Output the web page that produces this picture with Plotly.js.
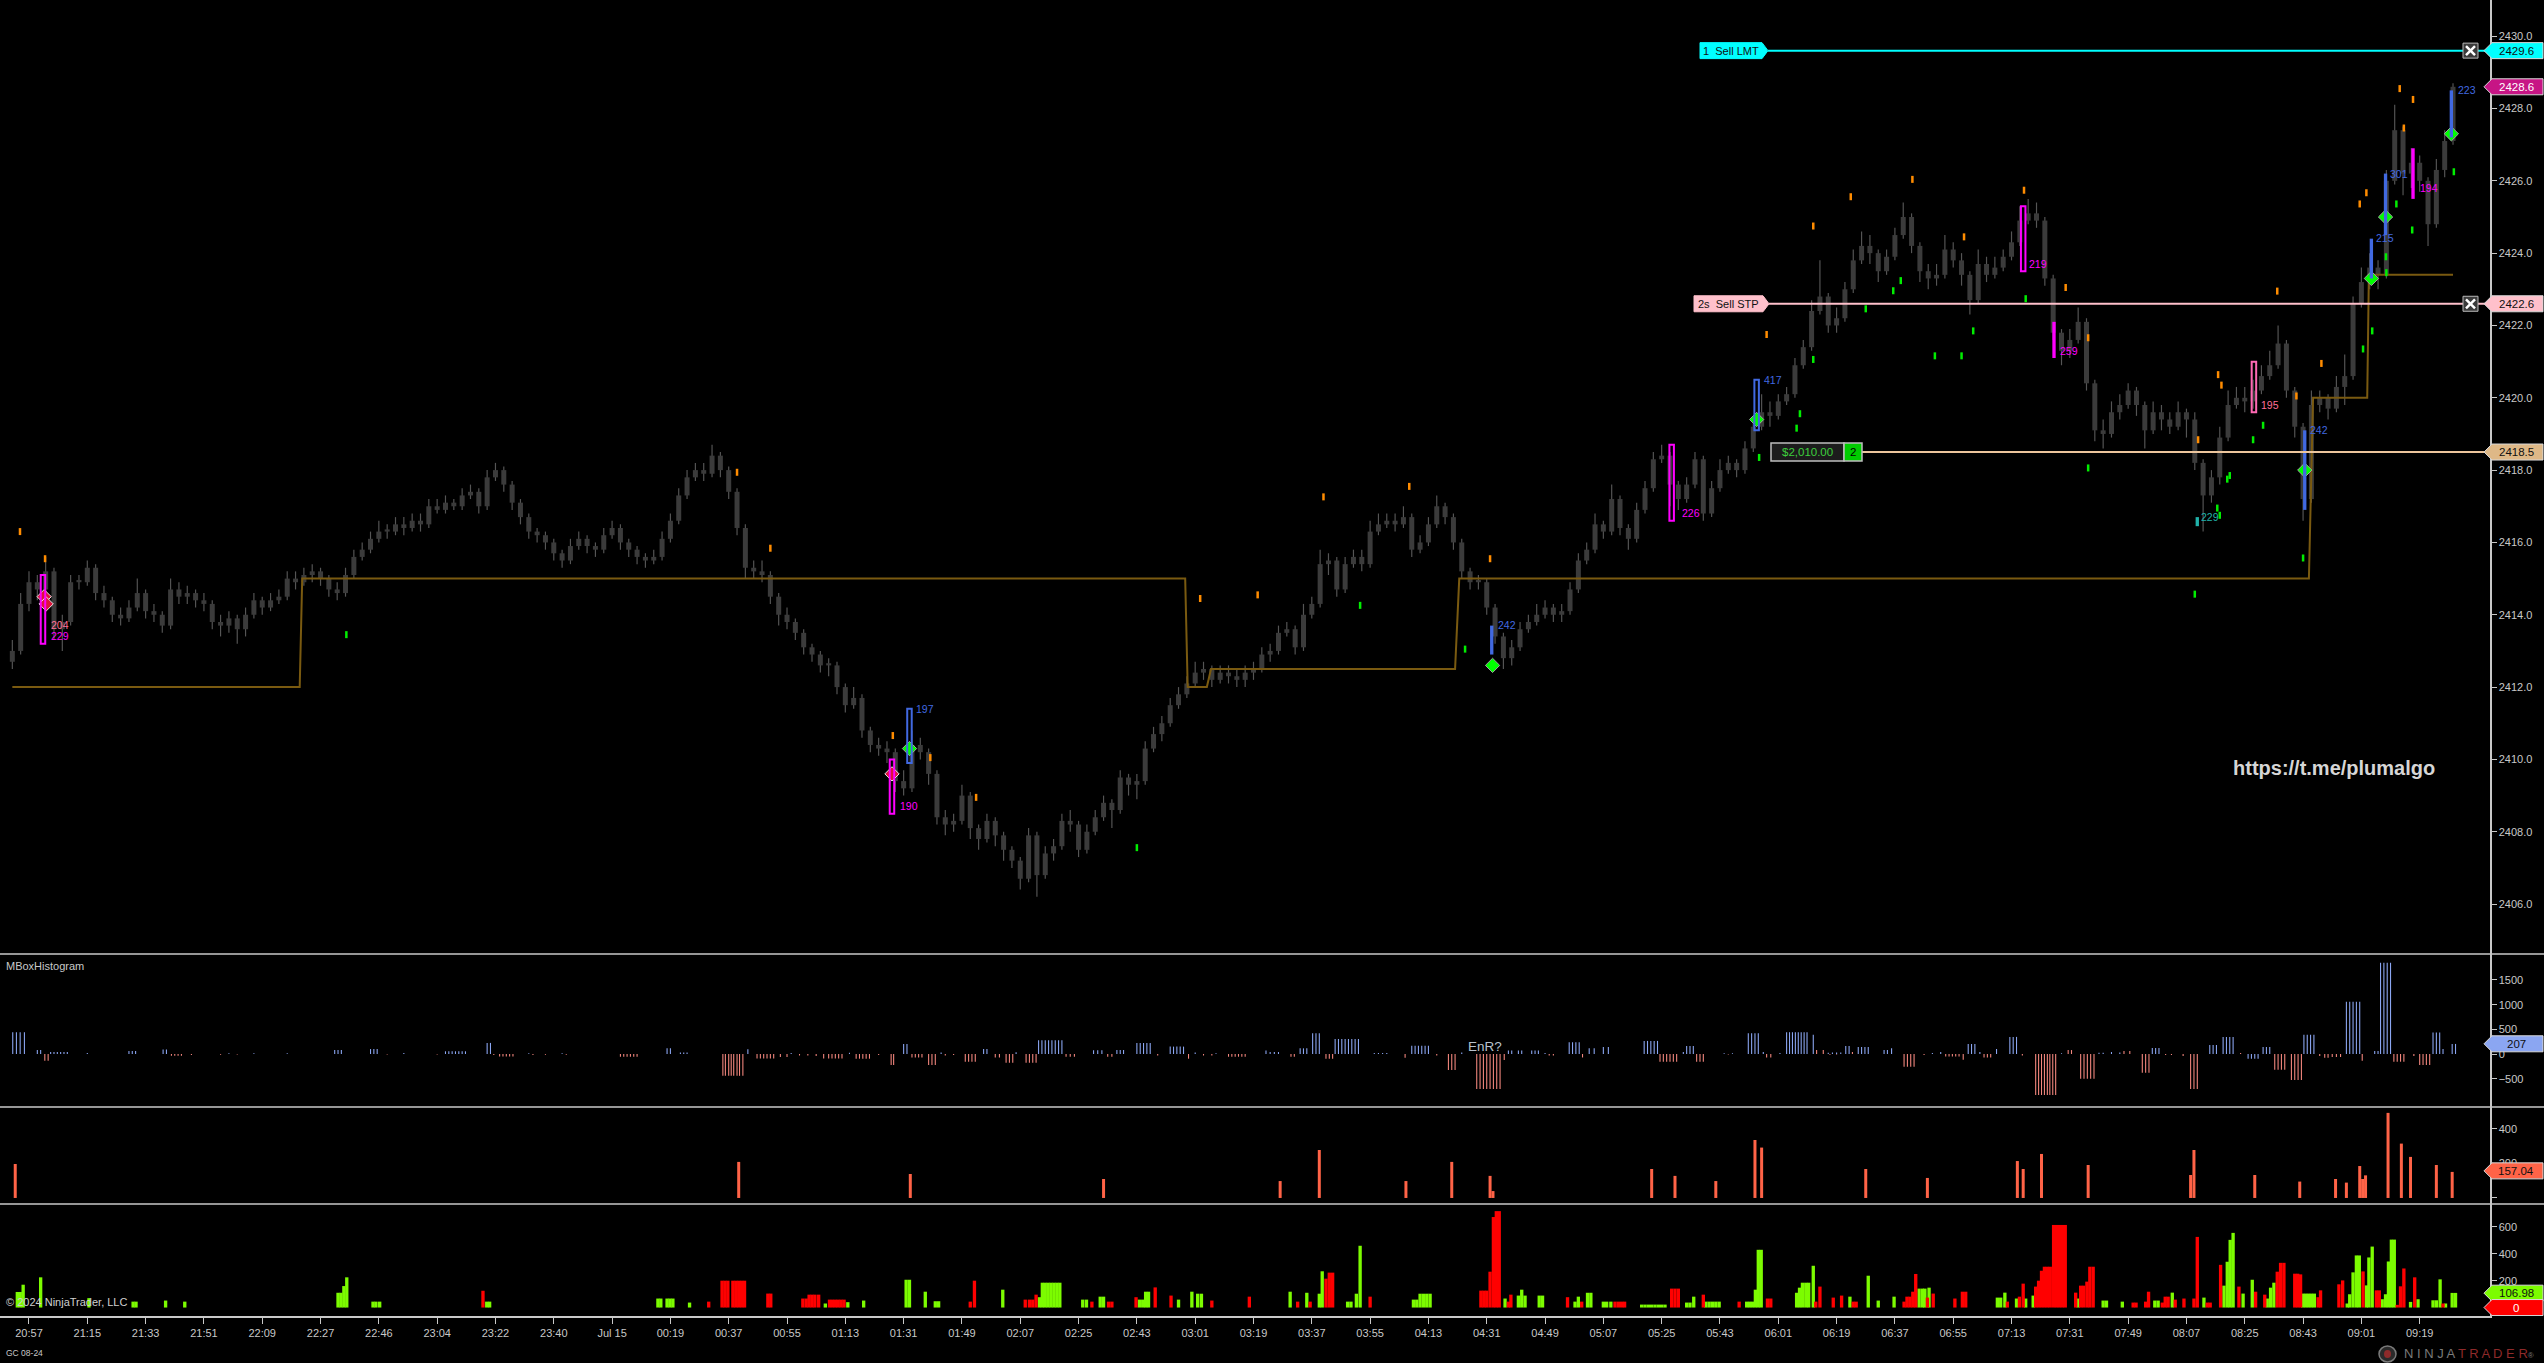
<!DOCTYPE html>
<html><head><meta charset="utf-8">
<script src="https://cdn.plot.ly/plotly-3.0.1.min.js"></script>
<style>html,body{margin:0;padding:0;background:#000;overflow:hidden}#chart{width:2544px;height:1363px}</style>
</head><body><div id="chart"></div>
<script>
// ---------- DATA ----------
const timeLabels = ['20:57','21:15','21:33','21:51','22:09','22:27','22:46','23:04','23:22','23:40','Jul 15','00:19','00:37','00:55','01:13','01:31','01:49','02:07','02:25','02:43','03:01','03:19','03:37','03:55','04:13','04:31','04:49','05:07','05:25','05:43','06:01','06:19','06:37','06:55','07:13','07:31','07:49','08:07','08:25','08:43','09:01','09:19'];

const closeP = [2413.0,2414.3,2414.9,2414.7,2415.2,2413.6,2413.8,2414.9,2414.9,2415.3,
2414.6,2414.4,2414.0,2413.9,2414.2,2414.6,2414.1,2414.0,2413.7,2414.7,
2414.5,2414.6,2414.4,2414.3,2413.8,2413.7,2413.9,2413.6,2414.0,2414.4,
2414.2,2414.4,2414.5,2415.0,2414.9,2415.1,2415.2,2415.0,2414.7,2414.6,
2415.1,2415.6,2415.8,2416.1,2416.3,2416.3,2416.5,2416.4,2416.6,2416.5,
2417.0,2416.9,2417.1,2417.0,2417.3,2417.4,2417.0,2417.8,2418.0,2417.6,
2417.1,2416.7,2416.3,2416.2,2416.0,2415.7,2415.5,2415.9,2416.1,2415.9,
2415.8,2416.2,2416.4,2416.0,2415.8,2415.6,2415.5,2415.6,2416.1,2416.6,
2417.3,2417.8,2418.0,2417.9,2418.4,2418.0,2417.4,2416.4,2415.3,2415.2,
2415.1,2414.5,2414.0,2413.8,2413.5,2413.1,2412.9,2412.6,2412.6,2412.0,
2411.5,2411.7,2410.8,2410.4,2410.3,2410.2,2409.4,2409.2,2410.4,2410.2,
2409.6,2408.4,2408.2,2408.3,2409.0,2408.1,2407.8,2408.3,2407.9,2407.5,
2407.2,2406.7,2407.9,2406.8,2407.4,2407.6,2408.3,2408.2,2407.5,2408.0,
2408.4,2408.8,2408.6,2409.5,2409.3,2409.4,2410.3,2410.7,2411.0,2411.5,
2411.8,2412.1,2412.4,2412.5,2412.2,2412.4,2412.3,2412.2,2412.4,2412.5,
2412.9,2413.0,2413.5,2413.6,2413.1,2414.0,2414.3,2415.4,2415.5,2414.7,
2415.4,2415.6,2415.4,2416.3,2416.5,2416.6,2416.5,2416.7,2415.8,2416.0,
2416.5,2417.0,2416.7,2416.0,2415.2,2414.9,2414.9,2414.2,2413.4,2412.8,
2413.1,2413.6,2413.8,2414.0,2414.2,2414.0,2414.1,2414.7,2415.5,2415.8,
2416.5,2416.3,2417.2,2416.4,2416.1,2416.9,2417.5,2418.3,2418.4,2417.6,
2417.2,2417.6,2418.3,2416.8,2417.5,2418.0,2418.2,2418.0,2418.6,2419.2,
2419.6,2419.5,2419.9,2420.1,2420.9,2421.4,2422.4,2422.8,2422.0,2422.2,
2423.0,2423.8,2424.2,2424.0,2423.5,2423.9,2424.5,2425.0,2424.2,2423.5,
2423.3,2423.4,2424.1,2423.8,2423.4,2422.7,2423.7,2423.4,2423.6,2423.9,
2424.3,2424.9,2425.1,2424.9,2423.3,2421.8,2421.3,2421.6,2422.1,2420.4,
2419.1,2419.0,2419.6,2419.8,2420.2,2419.8,2419.1,2419.6,2419.4,2419.2,
2419.6,2419.4,2418.2,2417.3,2417.8,2418.9,2419.8,2420.0,2419.9,2420.2,
2420.6,2420.9,2421.5,2420.2,2419.2,2417.2,2419.8,2420.0,2419.7,2420.3,
2420.6,2422.6,2423.2,2423.6,2423.4,2426.0,2427.4,2426.2,2426.5,2426.0,
2424.8,2426.3,2427.1,2428.6];

const openP = [2412.7,2413.0,2414.3,2414.9,2414.7,2415.2,2413.6,2413.8,2414.9,2414.9,
2415.3,2414.6,2414.4,2414.0,2413.9,2414.2,2414.6,2414.1,2414.0,2413.7,
2414.7,2414.5,2414.6,2414.4,2414.3,2413.8,2413.7,2413.9,2413.6,2414.0,
2414.4,2414.2,2414.4,2414.5,2415.0,2414.9,2415.1,2415.2,2415.0,2414.7,
2414.6,2415.1,2415.6,2415.8,2416.1,2416.3,2416.3,2416.5,2416.4,2416.6,
2416.5,2417.0,2416.9,2417.1,2417.0,2417.3,2417.4,2417.0,2417.8,2418.0,
2417.6,2417.1,2416.7,2416.3,2416.2,2416.0,2415.7,2415.5,2415.9,2416.1,
2415.9,2415.8,2416.2,2416.4,2416.0,2415.8,2415.6,2415.5,2415.6,2416.1,
2416.6,2417.3,2417.8,2418.0,2417.9,2418.4,2418.0,2417.4,2416.4,2415.3,
2415.2,2415.1,2414.5,2414.0,2413.8,2413.5,2413.1,2412.9,2412.6,2412.6,
2412.0,2411.5,2411.7,2410.8,2410.4,2410.3,2410.2,2409.4,2409.2,2410.4,
2410.2,2409.6,2408.4,2408.2,2408.3,2409.0,2408.1,2407.8,2408.3,2407.9,
2407.5,2407.2,2406.7,2407.9,2406.8,2407.4,2407.6,2408.3,2408.2,2407.5,
2408.0,2408.4,2408.8,2408.6,2409.5,2409.3,2409.4,2410.3,2410.7,2411.0,
2411.5,2411.8,2412.1,2412.4,2412.5,2412.2,2412.4,2412.3,2412.2,2412.4,
2412.5,2412.9,2413.0,2413.5,2413.6,2413.1,2414.0,2414.3,2415.4,2415.5,
2414.7,2415.4,2415.6,2415.4,2416.3,2416.5,2416.6,2416.5,2416.7,2415.8,
2416.0,2416.5,2417.0,2416.7,2416.0,2415.2,2414.9,2414.9,2414.2,2413.4,
2412.8,2413.1,2413.6,2413.8,2414.0,2414.2,2414.0,2414.1,2414.7,2415.5,
2415.8,2416.5,2416.3,2417.2,2416.4,2416.1,2416.9,2417.5,2418.3,2418.4,
2417.6,2417.2,2417.6,2418.3,2416.8,2417.5,2418.0,2418.2,2418.0,2418.6,
2419.2,2419.6,2419.5,2419.9,2420.1,2420.9,2421.4,2422.4,2422.8,2422.0,
2422.2,2423.0,2423.8,2424.2,2424.0,2423.5,2423.9,2424.5,2425.0,2424.2,
2423.5,2423.3,2423.4,2424.1,2423.8,2423.4,2422.7,2423.7,2423.4,2423.6,
2423.9,2424.3,2424.9,2425.1,2424.9,2423.3,2421.8,2421.3,2421.6,2422.1,
2420.4,2419.1,2419.0,2419.6,2419.8,2420.2,2419.8,2419.1,2419.6,2419.4,
2419.2,2419.6,2419.4,2418.2,2417.3,2417.8,2418.9,2419.8,2420.0,2419.9,
2420.2,2420.6,2420.9,2421.5,2420.2,2419.2,2417.2,2419.8,2420.0,2419.7,
2420.3,2420.6,2422.6,2423.2,2423.6,2423.4,2426.0,2427.4,2426.2,2426.5,
2426.0,2424.8,2426.3,2427.1];

const highP = [2413.3,2414.6,2415.2,2415.1,2415.6,2415.3,2414.0,2415.1,2415.1,2415.5,
2415.4,2414.8,2414.5,2414.2,2414.4,2415.0,2414.7,2414.3,2414.1,2415.0,
2414.9,2414.8,2414.7,2414.6,2414.4,2414.0,2414.1,2414.0,2414.2,2414.6,
2414.5,2414.6,2414.7,2415.2,2415.2,2415.3,2415.4,2415.3,2415.1,2414.9,
2415.3,2415.8,2416.0,2416.3,2416.6,2416.5,2416.7,2416.7,2416.8,2416.8,
2417.2,2417.2,2417.3,2417.2,2417.5,2417.6,2417.5,2418.0,2418.2,2418.1,
2417.7,2417.2,2416.8,2416.4,2416.3,2416.1,2415.8,2416.1,2416.3,2416.2,
2416.0,2416.4,2416.6,2416.5,2416.1,2415.9,2415.7,2415.8,2416.3,2416.8,
2417.5,2418.0,2418.2,2418.2,2418.7,2418.5,2418.1,2417.5,2416.5,2415.5,
2415.5,2415.2,2414.6,2414.2,2413.9,2413.6,2413.2,2413.0,2412.8,2412.7,
2412.1,2412.0,2411.8,2410.9,2410.6,2410.5,2410.3,2409.7,2410.8,2410.6,
2410.3,2409.7,2408.6,2408.5,2409.3,2409.1,2408.2,2408.5,2408.4,2408.0,
2407.6,2407.3,2408.1,2408.0,2407.6,2407.8,2408.5,2408.6,2408.3,2408.2,
2408.6,2409.0,2408.9,2409.7,2409.6,2409.6,2410.5,2410.9,2411.2,2411.7,
2412.0,2412.3,2412.7,2412.7,2412.6,2412.6,2412.6,2412.5,2412.6,2412.7,
2413.1,2413.2,2413.7,2413.8,2413.7,2414.3,2414.5,2415.8,2415.7,2415.6,
2415.6,2415.8,2415.8,2416.6,2416.8,2416.8,2416.8,2417.0,2416.8,2416.2,
2416.7,2417.3,2417.1,2416.8,2416.1,2415.3,2415.1,2415.0,2414.3,2413.5,
2413.3,2413.8,2414.0,2414.3,2414.4,2414.3,2414.3,2414.9,2415.7,2416.0,
2416.8,2416.6,2417.6,2417.3,2416.5,2417.1,2417.7,2418.5,2418.7,2418.5,
2417.7,2417.8,2418.5,2418.4,2417.7,2418.3,2418.4,2418.3,2418.8,2419.4,
2420.1,2419.9,2420.1,2420.3,2421.1,2421.6,2422.7,2423.8,2422.9,2422.5,
2423.2,2424.1,2424.6,2424.5,2424.1,2424.1,2424.7,2425.4,2425.1,2424.3,
2423.7,2423.7,2424.5,2424.3,2424.0,2423.5,2424.1,2423.9,2423.9,2424.1,
2424.6,2425.3,2425.5,2425.4,2425.0,2423.4,2421.9,2421.9,2422.5,2422.2,
2420.5,2419.4,2419.9,2420.1,2420.4,2420.3,2419.9,2419.9,2419.8,2419.6,
2419.9,2419.7,2419.6,2418.3,2418.0,2419.2,2420.2,2420.3,2420.3,2420.5,
2420.9,2421.3,2422.0,2421.6,2420.3,2419.3,2420.2,2420.2,2420.1,2420.6,
2421.2,2422.8,2423.6,2424.0,2423.8,2426.3,2428.1,2427.5,2426.9,2426.7,
2426.1,2426.6,2427.4,2428.7];

const lowP = [2412.5,2412.9,2414.1,2414.4,2414.6,2413.3,2413.0,2413.7,2414.7,2414.8,
2414.4,2414.2,2413.8,2413.7,2413.8,2414.1,2413.9,2413.8,2413.5,2413.6,
2414.3,2414.3,2414.2,2414.1,2413.6,2413.4,2413.5,2413.2,2413.4,2413.9,
2414.0,2414.1,2414.3,2414.4,2414.7,2414.8,2414.9,2414.8,2414.5,2414.4,
2414.5,2415.0,2415.5,2415.7,2416.0,2416.1,2416.2,2416.2,2416.3,2416.3,
2416.4,2416.8,2416.8,2416.9,2416.9,2417.2,2416.8,2416.9,2417.7,2417.4,
2416.9,2416.5,2416.1,2416.0,2415.8,2415.5,2415.3,2415.4,2415.8,2415.7,
2415.6,2415.7,2416.1,2415.8,2415.6,2415.4,2415.3,2415.4,2415.5,2416.0,
2416.5,2417.2,2417.7,2417.7,2417.8,2417.8,2417.2,2416.2,2415.0,2415.0,
2414.9,2414.3,2413.7,2413.6,2413.3,2412.9,2412.7,2412.4,2412.3,2411.8,
2411.3,2411.4,2410.6,2410.2,2410.1,2409.9,2409.1,2409.0,2409.1,2410.0,
2409.3,2408.2,2407.9,2408.0,2408.2,2407.8,2407.5,2407.7,2407.6,2407.2,
2407.0,2406.4,2406.6,2406.2,2406.7,2407.2,2407.5,2408.0,2407.3,2407.4,
2407.9,2408.3,2408.1,2408.5,2409.0,2408.9,2409.3,2410.2,2410.5,2410.9,
2411.4,2411.7,2412.0,2412.2,2412.0,2412.1,2412.1,2412.0,2412.0,2412.2,
2412.4,2412.7,2412.9,2413.4,2412.9,2413.0,2413.9,2414.2,2415.1,2414.5,
2414.6,2415.3,2415.2,2415.3,2416.2,2416.4,2416.3,2416.4,2415.6,2415.7,
2415.9,2416.4,2416.5,2415.8,2415.0,2414.7,2414.7,2414.0,2413.2,2412.5,
2412.6,2413.0,2413.5,2413.7,2413.9,2413.8,2413.8,2414.0,2414.6,2415.4,
2415.7,2416.1,2416.2,2416.2,2415.8,2416.0,2416.8,2417.4,2418.2,2417.0,
2416.9,2417.1,2417.5,2416.6,2416.7,2417.4,2417.9,2417.8,2417.9,2418.5,
2419.1,2419.2,2419.4,2419.8,2420.0,2420.8,2421.3,2422.3,2421.8,2421.8,
2422.1,2422.9,2423.7,2423.7,2423.2,2423.4,2423.8,2424.4,2424.0,2423.2,
2423.0,2423.1,2423.3,2423.6,2423.1,2422.3,2422.6,2423.2,2423.3,2423.5,
2423.8,2424.2,2424.8,2424.7,2423.1,2421.6,2420.9,2421.1,2421.5,2420.2,
2418.8,2418.6,2418.9,2419.4,2419.7,2419.5,2418.6,2419.0,2419.1,2419.0,
2419.1,2418.9,2418.0,2416.3,2417.1,2417.6,2418.8,2419.7,2419.6,2419.7,
2420.1,2420.5,2420.8,2420.0,2418.9,2416.6,2417.1,2419.6,2419.4,2419.6,
2419.8,2420.5,2422.5,2423.0,2423.0,2423.3,2425.9,2425.6,2425.8,2425.7,
2424.2,2424.7,2426.1,2427.0];

// step level line (bar index, price)
const levelBar = [0,34.5,34.8,140.8,141.1,143.4,143.9,173.2,173.7,275.7,276.2,282.7,282.9,293.0];
const levelVal = [2412.0,2412.0,2415.0,2415.0,2412.0,2412.0,2412.5,2412.5,2415.0,2415.0,2420.0,2420.0,2423.4,2423.4];

// small dots (bar index, price)
const orangeDots = [[0.92,2416.3],[3.93,2415.55],[87.0,2417.94],[91.0,2415.84],[105.7,2410.66],[110.2,2410.05],[115.7,2408.95],[142.6,2414.45],[149.5,2414.55],[157.4,2417.26],[167.7,2417.55],[177.4,2415.55],[210.6,2421.75],[216.2,2424.75],[220.7,2425.56],[228.1,2426.04],[234.3,2424.45],[241.5,2425.74],[246.5,2423.05],[249.2,2421.66],[262.4,2418.84],[264.8,2420.64],[265.2,2420.35],[271.9,2422.95],[274.2,2420.05],[277.2,2420.95],[281.8,2425.36],[282.6,2425.67],[286.6,2428.55],[287.1,2427.46],[288.2,2428.25]];
const greenDots = [[40.1,2413.45],[135.0,2407.56],[161.8,2414.26],[174.4,2413.05],[209.7,2418.35],[214.2,2419.16],[214.6,2419.56],[216.2,2421.06],[222.5,2422.46],[225.8,2422.96],[226.7,2423.24],[230.8,2421.16],[234.0,2421.16],[235.4,2421.85],[241.7,2422.74],[249.2,2418.06],[262.0,2414.57],[264.7,2416.95],[265.0,2416.75],[265.9,2417.75],[266.2,2417.85],[269.0,2418.84],[270.2,2419.24],[275.0,2415.57],[282.2,2421.35],[283.3,2421.85],[285.0,2423.46],[284.95,2423.9],[286.2,2425.36],[288.1,2424.64],[293.1,2426.25]];

// entry diamonds
const buyDiamonds = [[107.7,2410.3],[177.7,2412.6],[209.4,2419.4],[275.2,2418.0],[283.2,2423.3],[284.9,2425.0],[292.8,2427.3]];
const sellDiamonds = [[3.82,2414.5],[4.06,2414.3],[105.6,2409.6]];

// signal boxes: bar, top, bottom, kind
const boxBar = [3.68,105.6,107.7,177.6,199.2,209.4,241.4,245.1,262.3,269.1,275.2,283.2,284.9,288.2,292.8];
const boxTop = [2415.1,2410.0,2411.4,2413.7,2418.7,2420.5,2425.3,2422.1,2416.7,2421.0,2419.1,2424.4,2426.2,2426.9,2428.5];
const boxBot = [2413.2,2408.5,2409.9,2412.9,2416.6,2419.1,2423.5,2421.1,2416.45,2419.6,2416.9,2423.3,2424.5,2425.5,2427.2];
const boxKind = ['sellO','sellO','buyO','buyF','sellO','buyO','sellO','sellF','tealF','pinkO','buyF','buyF','buyF','sellF','buyF'];

// signal numbers
const labBar = [4.4,4.4,106.3,108.3,178.1,200.2,210.0,241.9,245.6,262.5,269.7,275.6,283.5,285.2,288.8,293.3];
const labPrice = [2413.72,2413.42,2408.71,2411.39,2413.72,2416.82,2420.5,2423.71,2421.3,2416.7,2419.81,2419.1,2424.41,2426.2,2425.8,2428.5];
const labText = ['204','229','190','197','242','226','417','219','259','229','195','242','215','301','194','223'];
const labKind = ['pink','sell','sell','buy','buy','sell','buy','sell','sell','teal','pink','buy','buy','buy','sell','buy'];

// MBoxHistogram (bar index, value)
const mboxBlue = [[0.05,442],[0.49,442],[0.94,442],[1.45,442],[3.0,80],[3.4,80],[4.6,40],[5.0,40],[5.4,40],[5.8,40],[6.2,40],[6.6,40],[9.0,20],[14.0,60],[14.4,60],[14.8,60],[18.1,90],[18.5,90],[26.0,15],[29.0,15],[33.0,15],[38.7,80],[39.1,80],[39.5,80],[43.0,100],[43.4,100],[43.8,100],[47.0,20],[52.0,55],[52.4,55],[52.8,55],[53.2,55],[53.6,55],[54.0,55],[54.4,55],[57.0,225],[57.4,225],[62.0,15],[66.0,15],[78.6,115],[79.0,115],[80.2,30],[80.6,30],[81.0,30],[88.3,95],[93.5,20],[100.5,25],[107.0,204],[107.4,204],[111.5,30],[116.6,100],[117.0,100],[120.5,35],[123.2,280],[123.6,280],[124.0,280],[124.4,280],[124.8,280],[125.2,280],[125.6,280],[126.0,280],[129.8,75],[130.3,75],[130.8,75],[132.6,80],[133.0,80],[133.4,80],[135.0,225],[135.4,225],[135.8,225],[136.2,225],[136.6,225],[139.0,150],[139.4,150],[139.8,150],[140.2,150],[140.6,150],[142.0,30],[144.5,15],[150.5,70],[151.0,40],[151.5,40],[152.0,40],[154.6,115],[155.0,115],[155.4,115],[156.1,420],[156.5,420],[156.9,420],[158.8,305],[159.2,305],[159.6,305],[160.0,305],[160.4,305],[160.8,305],[161.2,305],[161.6,305],[163.5,20],[164.0,20],[164.5,20],[165.0,20],[168.0,165],[168.4,165],[168.8,165],[169.2,165],[169.6,165],[170.0,165],[174.0,30],[179.6,70],[180.0,70],[180.8,70],[181.2,70],[182.4,70],[182.8,70],[183.2,70],[184.0,20],[186.9,238],[187.3,238],[187.7,238],[188.1,238],[189.3,115],[189.9,115],[191.0,143],[191.6,143],[195.9,265],[196.3,265],[196.7,265],[197.1,265],[197.5,265],[200.6,40],[201.0,163],[201.4,163],[201.8,163],[205.5,15],[206.5,15],[208.4,420],[208.8,420],[209.2,420],[209.6,420],[210.2,40],[212.2,20],[213.0,442],[213.35,442],[213.7,442],[214.05,442],[214.4,442],[214.75,442],[215.1,442],[215.45,442],[216.2,388],[218.0,25],[218.5,30],[219.0,30],[219.5,30],[220.1,163],[220.5,163],[221.6,143],[222.0,143],[222.4,143],[222.8,143],[224.7,82],[225.1,82],[225.6,115],[230.5,20],[231.5,40],[234.8,204],[235.2,204],[235.6,204],[236.2,40],[238.2,102],[239.8,347],[240.2,347],[240.6,347],[246.0,15],[250.5,25],[251.0,25],[252.0,40],[253.0,30],[256.9,122],[257.3,122],[257.7,122],[263.8,184],[264.2,184],[264.6,184],[265.4,347],[265.8,347],[266.2,347],[266.6,347],[268.4,-95],[268.8,-95],[269.2,-95],[269.6,-95],[270.2,143],[270.6,143],[271.0,143],[275.1,388],[275.5,388],[275.9,388],[276.3,388],[280.2,1060],[280.6,1060],[281.0,1060],[281.4,1060],[281.8,1060],[283.6,60],[284.0,60],[284.3,1850],[284.7,1850],[285.1,1850],[285.5,1850],[290.6,435],[291.0,435],[291.4,435],[291.8,100],[292.9,204],[293.3,204]];
const mboxRed = [[3.9,-136],[4.3,-136],[19.1,-35],[19.5,-35],[19.9,-35],[20.3,-35],[21.5,-20],[25,-15],[27,-10],[45,-10],[51,-10],[57.8,-20],[58.5,-48],[58.9,-48],[59.3,-48],[59.7,-48],[60.1,-48],[62.5,-20],[64,-15],[66.5,-15],[73.0,-55],[73.4,-55],[73.8,-55],[74.2,-55],[74.6,-55],[75.0,-55],[85.3,-442],[85.6,-442],[86.0,-442],[86.3,-442],[86.6,-442],[87.0,-442],[87.3,-442],[87.7,-442],[89.4,-90],[89.8,-90],[90.2,-90],[90.6,-90],[91.0,-90],[91.4,-90],[92.2,-60],[93.0,-60],[94.5,-30],[95.5,-30],[96.5,-40],[97.4,-90],[98.0,-90],[98.4,-90],[98.8,-90],[99.2,-90],[99.6,-90],[101.3,-95],[101.7,-95],[102.1,-95],[102.5,-95],[102.9,-95],[104,-20],[105.5,-225],[105.8,-225],[108.0,-70],[108.4,-70],[108.8,-70],[109.2,-70],[110.0,-225],[110.4,-225],[110.8,-225],[112,-30],[113,-20],[114.4,-156],[114.8,-156],[115.2,-156],[115.6,-156],[118.0,-70],[118.5,-70],[119.3,-177],[119.7,-177],[120.1,-177],[121.7,-177],[122.1,-177],[122.5,-177],[122.9,-177],[126.5,-55],[127.0,-55],[127.5,-55],[131.5,-55],[132.0,-55],[137.5,-30],[141.2,-95],[143,-30],[144,-30],[146.0,-55],[146.4,-55],[146.8,-55],[147.2,-55],[147.6,-55],[148.0,-55],[153.5,-55],[153.9,-55],[157.7,-95],[158.1,-95],[158.5,-95],[167.2,-75],[171,-30],[172.4,-326],[172.8,-326],[173.2,-326],[175.8,-707],[176.2,-707],[176.6,-707],[177.0,-707],[177.4,-707],[177.8,-707],[178.2,-707],[178.6,-707],[179.1,-120],[184.5,-30],[185,-30],[188.5,-70],[197.8,-156],[198.2,-156],[198.6,-156],[199.0,-156],[199.4,-156],[199.8,-156],[202.2,-156],[202.6,-156],[203.0,-156],[206,-10],[210.6,-70],[211.1,-70],[216.6,80],[217.4,80],[218.2,-15],[219,-10],[220.9,40],[227.1,-258],[227.5,-258],[227.9,-258],[228.3,-258],[229.5,-20],[232.1,-48],[232.5,-48],[232.9,-48],[233.3,-48],[233.7,-48],[234.2,-116],[236.7,-70],[237.1,-70],[237.5,-70],[241.3,-30],[242.9,-830],[243.25,-830],[243.6,-830],[243.95,-830],[244.3,-830],[244.6,-830],[244.95,-830],[245.3,-830],[246.8,80],[247.2,80],[248.3,-503],[248.7,-503],[249.1,-503],[249.5,-503],[249.9,-503],[253.5,60],[254.2,60],[255.7,-380],[256.1,-380],[256.5,-380],[258.5,-20],[259.2,-20],[260.6,-40],[261.5,-707],[261.9,-707],[262.3,-707],[267.5,20],[271.6,-320],[272.0,-320],[272.4,-320],[272.8,-320],[273.6,-524],[274.0,-524],[274.4,-524],[274.8,-524],[277.0,-40],[277.6,-75],[278.0,-75],[278.5,-60],[279.0,-60],[279.5,-60],[282.1,-136],[285.9,-156],[286.3,-156],[286.7,-156],[287.1,-156],[288.3,-40],[289.0,-224],[289.4,-224],[289.8,-224],[290.2,-224]];

// second indicator panel (bar index, value)
const spikeVals = [[0.35,197],[87.2,209],[107.8,139],[131.0,110],[152.2,98],[156.9,278],[167.3,98],[172.8,209],[177.4,128],[177.75,40],[196.8,168],[199.6,128],[204.5,98],[209.2,336],[210.0,292],[222.5,168],[229.9,116],[240.7,214],[241.4,168],[243.6,255],[249.2,191],[261.5,133],[261.9,278],[269.2,133],[274.6,95],[278.9,110],[280.2,89],[281.8,185],[282.15,110],[282.5,131],[285.2,493],[286.8,315],[287.9,238],[291.0,191],[292.9,151]];

// third indicator panel (bar index, value)
const volGreen = [[0.6,116],[0.95,116],[1.3,170],[3.4,225],[9.2,70],[14.5,44],[14.85,44],[18.4,52],[20.7,44],[39.1,110],[39.45,110],[39.8,160],[40.15,225],[43.3,44],[43.65,44],[44.1,44],[56.95,44],[57.3,44],[77.5,67],[77.85,67],[78.6,67],[78.95,67],[79.3,67],[81.3,37],[97.6,30],[100.3,40],[102.2,52],[107.3,207],[107.7,207],[109.6,118],[110.8,47],[111.2,47],[118.9,133],[123.3,77],[123.65,185],[124.0,185],[124.35,185],[124.7,185],[125.05,185],[125.4,185],[125.75,185],[128.5,59],[128.95,59],[130.6,81],[131.0,81],[135.3,59],[135.7,59],[136.05,118],[136.4,118],[140.0,59],[141.6,118],[142.3,103],[142.75,103],[153.4,118],[155.4,110],[156.9,103],[157.25,270],[160.3,44],[160.7,44],[161.35,103],[161.8,460],[168.2,59],[168.6,59],[169.0,103],[169.4,103],[169.8,103],[170.2,103],[179.2,67],[180.8,89],[181.2,133],[181.6,89],[183.3,89],[183.7,89],[187.6,44],[188.0,81],[189.1,110],[189.5,110],[191.0,44],[191.4,44],[191.9,44],[195.6,22],[196.0,22],[196.4,22],[196.8,22],[197.2,22],[197.6,22],[198.0,22],[198.4,22],[201.0,37],[201.4,37],[201.85,81],[203.3,44],[203.7,44],[204.1,44],[204.5,44],[204.9,44],[208.2,44],[208.55,44],[208.9,44],[209.25,133],[209.6,430],[209.95,430],[214.2,110],[214.55,148],[214.9,185],[215.3,185],[215.65,185],[216.2,311],[220.6,81],[222.8,237],[224.0,52],[225.9,81],[228.9,141],[229.3,141],[229.6,141],[230.1,148],[238.3,74],[238.7,74],[239.2,111],[240.6,67],[241.7,67],[242.6,89],[248.0,67],[251.0,52],[251.4,52],[253.3,44],[257.2,52],[257.6,52],[259.3,111],[263.1,74],[265.5,163],[265.9,341],[266.25,504],[266.6,556],[267.8,104],[268.9,207],[270.7,67],[271.1,148],[271.5,185],[274.95,104],[275.3,104],[275.65,104],[276.0,104],[276.35,104],[280.3,30],[280.6,99],[281.0,262],[281.4,388],[281.75,388],[282.6,165],[282.9,373],[283.3,454],[284.5,62],[284.9,99],[285.25,343],[285.6,506],[285.95,506],[287.9,42],[288.8,62],[290.6,54],[291.0,54],[291.45,210],[292.1,30],[292.9,109],[293.3,109]];
const volRed = [[56.5,125],[83.6,44],[85.2,200],[85.55,200],[85.9,200],[86.5,200],[86.85,200],[87.2,200],[87.55,200],[87.9,200],[90.7,104],[91.05,104],[94.9,67],[95.3,67],[95.65,96],[96.0,96],[96.35,96],[96.8,96],[98.1,59],[98.45,59],[98.8,59],[99.15,59],[99.5,59],[99.85,59],[115.0,44],[115.5,200],[121.6,59],[122.1,59],[122.5,59],[122.9,96],[129.6,44],[131.6,44],[132.0,44],[134.9,77],[137.2,150],[139.1,89],[144.0,52],[148.5,81],[154.3,44],[155.8,44],[157.7,215],[158.1,260],[158.5,260],[163.0,81],[176.3,126],[176.65,126],[177.0,126],[177.4,267],[177.8,674],[178.15,718],[178.5,718],[179.6,44],[179.9,96],[186.7,77],[188.4,44],[192.4,44],[192.8,44],[193.2,44],[193.55,44],[199.2,141],[199.6,141],[200.0,141],[203.0,96],[207.3,44],[210.7,67],[211.1,67],[216.5,44],[217.0,156],[218.6,74],[219.6,89],[221.0,44],[221.35,44],[227.1,44],[227.45,81],[227.8,81],[228.15,118],[228.5,250],[229.9,74],[230.6,104],[233.2,67],[234.1,118],[234.5,118],[239.5,44],[240.95,81],[241.4,178],[242.9,156],[243.25,200],[243.6,274],[243.95,304],[244.3,304],[244.65,304],[245.05,615],[245.4,615],[245.75,615],[246.1,615],[246.45,615],[247.7,111],[248.3,163],[248.65,163],[249.05,193],[249.4,304],[249.8,304],[254.6,37],[254.95,37],[256.1,44],[256.45,118],[258.1,37],[258.45,81],[258.8,81],[259.65,59],[260.7,67],[261.9,67],[262.3,526],[263.5,37],[263.85,37],[265.1,318],[267.3,156],[269.3,118],[270.4,96],[271.9,267],[272.3,333],[272.7,333],[274.0,252],[274.35,252],[274.7,247],[276.8,77],[277.1,128],[279.3,173],[279.75,202],[282.2,269],[283.8,128],[284.15,128],[286.3,20],[286.7,158],[287.1,291],[288.4,225],[291.8,30]];

// working orders / position
const orderPrice = [2429.6, 2422.6];
const orderText = ['1  Sell LMT', '2s  Sell STP'];
const positionPrice = 2418.5;
const positionPnL = '$2,010.00';
const positionQty = '2';
const lastPrice = 2428.6;
const lastMbox = 207, lastSpike = 157.04, lastVolG = 106.98, lastVolR = 0;

// ---------- LAYOUT CONSTANTS ----------
const W = 2544, H = 1363, PW = 2490, PH = 1316;
const dom = {y:[0.2751,1], y2:[0.1588,0.2751], y3:[0.0851,0.1588], y4:[0,0.0851]};
const rng = {y:[2404.62,2431.0], y2:[-1074,2027], y3:[-35,527], y4:[-63,771]};
const ppu = a => (dom[a][1]-dom[a][0])*PH/(rng[a][1]-rng[a][0]);
const px = p => p / PW;
const FONT = 'Liberation Sans, Arial, sans-serif';
const AX = '#c8c8c8';

const idx = closeP.map((_, i) => i);
const traces = [];
// candles
traces.push({type:'bar', x: idx, y: highP.map((h,i)=>h-lowP[i]), base: lowP, width:0.14,
  marker:{color:'#555555'}, yaxis:'y', hoverinfo:'skip'});
traces.push({type:'bar', x: idx, y: openP.map((o,i)=>Math.max(Math.abs(closeP[i]-o),0.06)),
  base: openP.map((o,i)=>Math.min(o,closeP[i])), width:0.6,
  marker:{color:'#3b3b3b'}, yaxis:'y', hoverinfo:'skip'});
// level line
traces.push({type:'scatter', mode:'lines', x: levelBar, y: levelVal, line:{color:'#7a5a10', width:2}, yaxis:'y', hoverinfo:'skip'});
// dots
traces.push({type:'scatter', mode:'markers', x: orangeDots.map(d=>d[0]), y: orangeDots.map(d=>d[1]),
  marker:{symbol:'line-ns', size:5, line:{color:'#ff8c00', width:2.5}}, yaxis:'y', hoverinfo:'skip'});
traces.push({type:'scatter', mode:'markers', x: greenDots.map(d=>d[0]), y: greenDots.map(d=>d[1]),
  marker:{symbol:'line-ns', size:5, line:{color:'#00ee00', width:2.5}}, yaxis:'y', hoverinfo:'skip'});

// signal boxes (shapes) & labels
const kindColor = {buy:'#4169e1', sell:'#ff00ff', pink:'#ff6f96', teal:'#20b2aa'};
const shapes = [];
boxBar.forEach((b, k) => {
  const kind = boxKind[k];
  const fam = kind.startsWith('buy') ? 'buy' : kind.startsWith('sell') ? 'sell' : kind.startsWith('pink') ? 'pink' : 'teal';
  const col = fam === 'pink' ? '#ff69b4' : kindColor[fam];
  if (kind.endsWith('O')) {
    shapes.push({type:'rect', xref:'x', yref:'y', x0:b-0.27, x1:b+0.27, y0:boxBot[k], y1:boxTop[k],
      line:{color:col, width:2}, fillcolor:'rgba(0,0,0,0)', layer:'above'});
  } else {
    shapes.push({type:'rect', xref:'x', yref:'y', x0:b-0.2, x1:b+0.2, y0:boxBot[k], y1:boxTop[k],
      line:{width:0}, fillcolor:col, layer:'above'});
  }
});
// diamonds on top
traces.push({type:'scatter', mode:'markers', x: buyDiamonds.map(d=>d[0]), y: buyDiamonds.map(d=>d[1]),
  marker:{symbol:'diamond', size:11, color:'#00ff00', line:{color:'#a0a0a0', width:1}}, yaxis:'y', hoverinfo:'skip'});
traces.push({type:'scatter', mode:'markers', x: sellDiamonds.map(d=>d[0]), y: sellDiamonds.map(d=>d[1]),
  marker:{symbol:'diamond', size:11, color:'#dc143c', line:{color:'#e8e8e8', width:1}}, yaxis:'y', hoverinfo:'skip'});

// histogram panels
traces.push({type:'bar', x: mboxBlue.map(d=>d[0]), y: mboxBlue.map(d=>d[1]), width:0.13, marker:{color:'#8ba6f2'}, yaxis:'y2', hoverinfo:'skip'});
traces.push({type:'bar', x: mboxRed.map(d=>d[0]), y: mboxRed.map(d=>d[1]), width:0.13, marker:{color:'#f4877e'}, yaxis:'y2', hoverinfo:'skip'});
traces.push({type:'bar', x: spikeVals.map(d=>d[0]), y: spikeVals.map(d=>d[1]), width:0.36, marker:{color:'#ff6347'}, yaxis:'y3', hoverinfo:'skip'});
traces.push({type:'bar', x: volGreen.map(d=>d[0]), y: volGreen.map(d=>d[1]), width:0.4, marker:{color:'#7cfc00'}, yaxis:'y4', hoverinfo:'skip'});
traces.push({type:'bar', x: volRed.map(d=>d[0]), y: volRed.map(d=>d[1]), width:0.4, marker:{color:'#ff0000'}, yaxis:'y4', hoverinfo:'skip'});

const annotations = [];
labBar.forEach((b,k) => {
  annotations.push({xref:'x', yref:'y', x:b, y:labPrice[k], text:labText[k], showarrow:false,
    xanchor:'left', yanchor:'middle', font:{family:FONT, size:10.5, color:kindColor[labKind[k]]}});
});

// separators
[dom.y[0], dom.y2[0], dom.y3[0]].forEach(v => shapes.push({type:'line', xref:'paper', yref:'paper',
  x0:0, x1:W/PW, y0:v, y1:v, line:{color:AX, width:1.5}}));

// order lines + boxes
const orderFill = ['#00ffff', '#ffc0cb'];
const orderBoxL = [1700, 1694], orderBoxR = [1762, 1763];
orderPrice.forEach((p, k) => {
  const h = 8 / ppu('y');
  shapes.push({type:'line', xref:'paper', yref:'y', x0:px(orderBoxR[k]+6), x1:1, y0:p, y1:p, line:{color:orderFill[k], width:2}});
  shapes.push({type:'path', xref:'paper', yref:'y', fillcolor:orderFill[k], line:{color:orderFill[k], width:1},
    path:`M ${px(orderBoxL[k])},${p-h} L ${px(orderBoxR[k])},${p-h} L ${px(orderBoxR[k]+6)},${p} L ${px(orderBoxR[k])},${p+h} L ${px(orderBoxL[k])},${p+h} Z`});
  annotations.push({xref:'paper', yref:'y', x:px((orderBoxL[k]+orderBoxR[k])/2), y:p, text:orderText[k], showarrow:false,
    xanchor:'center', yanchor:'middle', font:{family:FONT, size:11, color:'#111'}});
  // close button
  const hb = 7.5 / ppu('y'), hx = 4.5 / ppu('y');
  shapes.push({type:'rect', xref:'paper', yref:'y', x0:px(2463), x1:px(2478), y0:p-hb, y1:p+hb, fillcolor:'#3a3a3a', line:{color:'#b8b8b8', width:1}});
  shapes.push({type:'line', xref:'paper', yref:'y', x0:px(2466), x1:px(2475), y0:p+hx, y1:p-hx, line:{color:'#ffffff', width:2.5}});
  shapes.push({type:'line', xref:'paper', yref:'y', x0:px(2466), x1:px(2475), y0:p-hx, y1:p+hx, line:{color:'#ffffff', width:2.5}});
});
// position line + PnL box
{
  const p = positionPrice, h = 9 / ppu('y');
  shapes.push({type:'line', xref:'paper', yref:'y', x0:px(1862), x1:1, y0:p, y1:p, line:{color:'#ecc59c', width:2}});
  shapes.push({type:'rect', xref:'paper', yref:'y', x0:px(1771), x1:px(1844), y0:p-h, y1:p+h, fillcolor:'#1c1c1c', line:{color:'#bdbdbd', width:1.5}});
  shapes.push({type:'rect', xref:'paper', yref:'y', x0:px(1844), x1:px(1862), y0:p-h, y1:p+h, fillcolor:'#00cc00', line:{color:'#bdbdbd', width:1.5}});
  annotations.push({xref:'paper', yref:'y', x:px(1807.5), y:p, text:positionPnL, showarrow:false, xanchor:'center', yanchor:'middle', font:{family:FONT, size:11.5, color:'#3ccf3c'}});
  annotations.push({xref:'paper', yref:'y', x:px(1853), y:p, text:positionQty, showarrow:false, xanchor:'center', yanchor:'middle', font:{family:FONT, size:11.5, color:'#000'}});
}

// axis value flags
function flag(yref, v, fill, tcol, text) {
  const h = 8 / ppu(yref);
  shapes.push({type:'path', xref:'paper', yref:yref, fillcolor:fill, line:{color:'#d8d8d8', width:1},
    path:`M ${px(2484)},${v} L ${px(2492)},${v+h} L ${px(2543)},${v+h} L ${px(2543)},${v-h} L ${px(2492)},${v-h} Z`});
  annotations.push({xref:'paper', yref:yref, x:px(2516), y:v, text:text, showarrow:false, xanchor:'center', yanchor:'middle',
    font:{family:FONT, size:11.5, color:tcol}});
}
flag('y', orderPrice[0], '#00ffff', '#101010', orderPrice[0].toFixed(1));
flag('y', lastPrice, '#c71585', '#ffffff', lastPrice.toFixed(1));
flag('y', orderPrice[1], '#ffc0cb', '#101010', orderPrice[1].toFixed(1));
flag('y', positionPrice, '#deb887', '#101010', positionPrice.toFixed(1));
flag('y2', lastMbox, '#8ba6f2', '#101010', String(lastMbox));
flag('y3', lastSpike, '#ff6347', '#101010', lastSpike.toFixed(2));
flag('y4', lastVolG, '#7cfc00', '#101010', lastVolG.toFixed(2));
flag('y4', lastVolR, '#ff0000', '#ffffff', String(lastVolR));

// texts
annotations.push({xref:'paper', yref:'y', x:px(2437), y:2409.76, text:'<b>https://t.me/plumalgo</b>', showarrow:false,
  xanchor:'right', yanchor:'middle', font:{family:FONT, size:20, color:'#d6d6d6'}});
annotations.push({xref:'paper', yref:'paper', x:px(4), y:1-966/PH, text:'MBoxHistogram', showarrow:false,
  xanchor:'left', yanchor:'middle', font:{family:FONT, size:11, color:'#c8c8c8'}});
annotations.push({xref:'x', yref:'y2', x:176.8, y:162, text:'EnR?', showarrow:false,
  xanchor:'center', yanchor:'middle', font:{family:FONT, size:13.5, color:'#b9c2cc'}});
annotations.push({xref:'paper', yref:'paper', x:px(4), y:1-1302/PH, text:'© 2024 NinjaTrader, LLC', showarrow:false,
  xanchor:'left', yanchor:'middle', font:{family:FONT, size:11, color:'#d0d0d0'}});
annotations.push({xref:'paper', yref:'paper', x:px(4), y:1-1353/PH, text:'GC 08-24', showarrow:false,
  xanchor:'left', yanchor:'middle', font:{family:FONT, size:8.5, color:'#c8c8c8'}});
annotations.push({xref:'paper', yref:'paper', x:px(2402), y:1-1354/PH,
  text:'<span style="color:#7a7a7a">N I N J A </span><span style="color:#8e2a2a">T R A D E R</span><span style="color:#7a7a7a;font-size:8px">®</span>',
  showarrow:false, xanchor:'left', yanchor:'middle', font:{family:FONT, size:13, color:'#7a7a7a'}});
shapes.push({type:'circle', xref:'paper', yref:'paper', x0:px(2379), x1:px(2396), y0:1-1362/PH, y1:1-1346/PH,
  fillcolor:'#2a2a2a', line:{color:'#7a7a7a', width:1.5}});
shapes.push({type:'circle', xref:'paper', yref:'paper', x0:px(2384), x1:px(2391), y0:1-1358/PH, y1:1-1350/PH,
  fillcolor:'#8e2a2a', line:{width:0}});

const tickFont = {family:FONT, size:11, color:AX};
const yBase = {side:'right', anchor:'x', showgrid:false, zeroline:false, showline:true, linecolor:AX, linewidth:1.5,
  ticks:'outside', ticklen:5, tickcolor:AX, tickfont:tickFont, fixedrange:true, automargin:false};

const layout = {
  width:W, height:H, paper_bgcolor:'#000', plot_bgcolor:'#000',
  margin:{l:0, r:W-PW, t:0, b:H-PH}, showlegend:false, hovermode:false, barmode:'overlay',
  xaxis:{domain:[0,1], range:[-1.48,297.44], anchor:'y4', showgrid:false, zeroline:false, showline:true,
    linecolor:AX, linewidth:1.5, ticks:'outside', ticklen:6, tickcolor:AX, tickfont:tickFont,
    tickvals: timeLabels.map((_,k)=>2+7*k), ticktext: timeLabels, fixedrange:true, automargin:false},
  yaxis: Object.assign({}, yBase, {domain:dom.y, range:rng.y, dtick:2, tick0:2400, tickformat:'.1f'}),
  yaxis2: Object.assign({}, yBase, {domain:dom.y2, range:rng.y2, tickvals:[-500,0,500,1000,1500]}),
  yaxis3: Object.assign({}, yBase, {domain:dom.y3, range:rng.y3, tickvals:[0,200,400], ticktext:['','200','400']}),
  yaxis4: Object.assign({}, yBase, {domain:dom.y4, range:rng.y4, tickvals:[0,200,400,600], ticktext:['','200','400','600']}),
  shapes: shapes, annotations: annotations
};
Plotly.newPlot('chart', traces, layout, {staticPlot:true, displayModeBar:false});
</script></body></html>
